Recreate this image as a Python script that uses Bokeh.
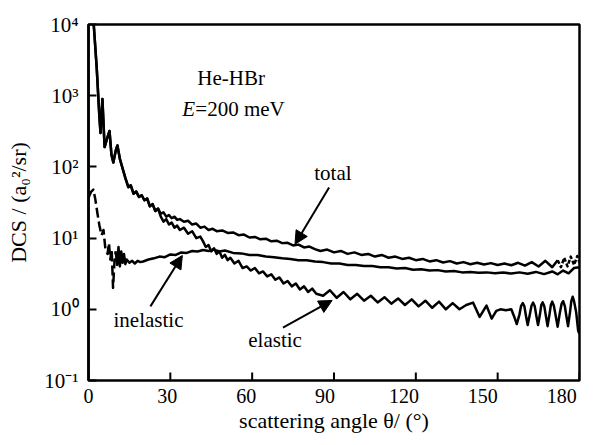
from bokeh.plotting import figure
from bokeh.models import Range1d, FixedTicker, Label, Arrow, NormalHead, LinearAxis
from bokeh.embed import file_html
from bokeh.resources import INLINE

# ---- data ----
# small-angle part shared by total and elastic (deg, a0^2/sr)
theta_small = [1.0, 2.0, 3.0, 4.0, 4.4, 5.1, 5.9, 6.8, 7.7, 8.4, 9.1, 10.0, 10.6, 11.5, 12.4,
               13.5, 14.6, 15.5, 16.5, 17.5, 18.5, 19.5, 20.5, 21.5, 22.5, 23.5, 24.5, 25.5]
dcs_small = [30000, 9000, 2500, 500, 300, 900, 190, 250, 320, 150, 115, 170, 200, 130, 98,
             70, 52, 55, 42, 45, 38, 40, 34, 36, 28, 30, 24, 26]

theta_total_tail = [26.5, 27.5, 28.5, 29.5, 30.5, 31.5, 32.5, 33.5, 35, 36.5, 38, 39.5, 41, 42.5,
                    44, 45.5, 47, 49, 51, 53, 55, 57, 59, 61, 63, 65, 67, 69, 71, 73, 75, 77,
                    79, 81, 83, 85, 87.5, 90, 92.5, 95, 97.5, 100, 102.5, 105, 107.5, 110,
                    112.5, 115, 117.5, 120, 122.5, 125, 127.5, 130, 132.5, 135, 137.5, 140,
                    142.5, 145, 147.5, 150, 152.5, 155, 157.5, 160, 162.5, 165, 167.5, 170, 172]
dcs_total_tail = [22, 23, 20, 21, 19, 20, 18, 18.5, 17, 17.5, 15.5, 16, 14, 14.5,
                  13, 13.5, 12.5, 12.8, 11.8, 12, 11, 11.2, 10.2, 10.4, 9.6, 9.8, 9.0, 9.2, 8.5, 8.6, 7.9, 8.1,
                  7.4, 7.6, 7.0, 6.6, 6.9, 6.3, 6.6, 6.0, 6.3, 5.8, 6.0, 5.5, 5.8, 5.3,
                  5.5, 5.1, 5.3, 4.9, 5.1, 4.7, 4.9, 4.55, 4.75, 4.4, 4.6, 4.3,
                  4.5, 4.25, 4.45, 4.2, 4.4, 4.15, 4.5, 4.1, 4.6, 4.0, 4.8, 3.9, 4.9]
theta_total_end = [172, 173.2, 174.4, 175.6, 176.8, 178, 179.2, 180]
dcs_total_end = [4.9, 3.9, 5.3, 4.0, 5.5, 4.2, 5.6, 4.5]

theta_elastic_tail = [26.5, 27.5, 28.5, 29.5, 30.5, 31.5, 32.5, 33.5, 35, 36.5, 38, 39.5, 41, 42,
                      43, 44, 45, 46, 47, 48, 49, 50, 51, 52, 53.5, 55, 56.5, 58, 59.5, 61, 62.5,
                      64, 65.5, 67, 68.5, 70, 71.5, 73, 74.5, 76, 77.5, 79, 80.5, 82, 83.5, 86,
                      88.5, 91, 93.5, 96, 98.5, 101, 103.5, 106, 108.5, 111, 113.5, 116, 118.5,
                      121, 123.5, 126, 128.5, 131, 133.5, 136, 138.5, 141, 143.4, 145.9, 147.8,
                      149.5, 151, 153, 155, 156, 157, 158, 158.6, 159.2, 159.8, 160.4, 161,
                      161.8, 162.4, 163, 163.6, 164.2, 164.8, 165.5, 166, 166.5, 167.1, 167.7,
                      168.3, 169, 169.5, 170, 170.6, 171.3, 172, 172.7, 173.4, 174, 174.6, 175.2,
                      175.8, 176.5, 177, 177.5, 178, 178.8, 179.5, 180]
dcs_elastic_tail = [20, 17, 18.5, 15.5, 16.5, 14, 15, 13, 14, 11.5, 12.5, 10, 10.5, 9,
                    7.5, 8, 6.5, 7.2, 6.0, 6.5, 5.3, 5.8, 4.9, 5.3, 4.4, 4.8, 3.8, 4.0, 3.5, 3.8, 3.2,
                    3.4, 2.9, 3.1, 2.6, 2.8, 2.3, 2.5, 2.1, 2.3, 1.9, 2.1, 1.75, 1.95, 1.65, 1.55,
                    1.85, 1.45, 1.75, 1.38, 1.65, 1.32, 1.55, 1.25, 1.48, 1.2, 1.42, 1.15, 1.38,
                    1.1, 1.32, 1.05, 1.28, 1.0, 1.22, 1.0, 1.15, 1.24, 0.78, 1.13, 0.74,
                    0.95, 1.0, 0.97, 1.0, 0.8, 0.62, 0.85, 1.12, 1.22, 1.1, 0.8, 0.6,
                    0.85, 1.12, 1.24, 1.1, 0.8, 0.6, 0.85, 1.15, 1.25, 1.1, 0.8,
                    0.58, 0.85, 1.15, 1.28, 1.12, 0.8, 0.57, 0.85, 1.18, 1.3, 1.12, 0.8,
                    0.58, 0.9, 1.3, 1.5, 1.3, 0.9, 0.5, 0.45]

theta_inel_start = [0, 1, 1.8, 2.5, 3.3, 4, 4.8, 5.5, 6.2, 7, 7.5, 8, 8.5, 9, 9.5, 10]
dcs_inel_start = [37, 45, 48, 35, 22, 15, 11, 13, 7, 6, 8.5, 5, 7, 2.0, 4.5, 6.5]
theta_inel = [10, 10.5, 11, 11.5, 12, 12.5, 13, 13.5, 14, 15, 16, 17, 18, 19, 20, 22, 24, 26, 28,
              30, 32, 34, 36, 38, 40, 42, 44, 46, 48, 50, 53, 56, 59, 62, 65, 68, 71, 74, 77,
              80, 83, 86, 89, 92, 95, 98, 101, 104, 107, 110, 113, 116, 119, 122, 125, 128,
              131, 134, 137, 140, 143, 146, 149, 152, 155, 158, 161, 164, 167, 170, 172, 174,
              176, 178, 180]
dcs_inel = [6.5, 4.2, 7.5, 4.0, 6.5, 4.5, 6.0, 4.3, 5.0, 4.5, 4.8, 4.4, 4.8, 4.6, 4.7, 5.0, 5.2, 5.5, 5.4,
            5.9, 5.8, 6.3, 6.2, 6.6, 6.5, 6.8, 6.6, 6.9, 6.5, 6.7, 6.2, 6.1, 5.8, 5.8, 5.5, 5.4, 5.2, 5.1, 4.9,
            4.9, 4.7, 4.6, 4.4, 4.4, 4.2, 4.2, 4.05, 4.05, 3.9, 3.9, 3.75, 3.8, 3.6, 3.65, 3.5, 3.55,
            3.4, 3.45, 3.3, 3.35, 3.25, 3.3, 3.2, 3.28, 3.18, 3.3, 3.15, 3.35, 3.12, 3.4, 3.1, 3.5,
            3.2, 3.8, 3.9]

x_ticks = [0, 30, 60, 90, 120, 150, 180]
y_ticks = [0.1, 1, 10, 100, 1000, 10000]
y_tick_labels = ["10⁻¹", "10⁰", "10¹", "10²", "10³", "10⁴"]

FONT = "Liberation Serif"
Y_MIN, Y_MAX = 0.1, 10000

p = figure(width=599, height=445, output_backend="svg", toolbar_location=None,
           y_axis_type="log", x_range=Range1d(0, 180), y_range=Range1d(Y_MIN, Y_MAX),
           min_border_left=88, min_border_right=20, min_border_top=24, min_border_bottom=65)
p.background_fill_color = "white"
p.border_fill_color = "white"
p.outline_line_color = "black"
p.outline_line_width = 2.5
p.grid.visible = False

# y axis
p.yaxis.ticker = FixedTicker(ticks=y_ticks, minor_ticks=[])
p.yaxis.major_label_overrides = {t: l for t, l in zip(y_ticks, y_tick_labels)}
ya = p.yaxis[0]
ya.axis_line_width = 2.5
ya.axis_line_color = "black"
ya.major_tick_in = 8
ya.major_tick_out = 0
ya.major_tick_line_width = 2
ya.minor_tick_line_color = None
ya.major_label_text_font = FONT
ya.major_label_text_font_size = "21px"
ya.major_label_text_color = "black"
ya.major_label_standoff = 10
ya.axis_label = "DCS / (a₀²/sr)"
ya.axis_label_text_font = FONT
ya.axis_label_text_font_size = "22px"
ya.axis_label_text_font_style = "normal"
ya.axis_label_text_color = "black"
ya.axis_label_standoff = 10

# x axis: inward ticks drawn at the tick values; labels on a slightly compressed label axis
p.xaxis.visible = False
p.ray(x=x_ticks, y=Y_MIN, length=8, length_units="screen", angle=90, angle_units="deg",
      line_color="black", line_width=2)
p.extra_x_ranges = {"labels": Range1d(0, 186.8)}
lab_axis = LinearAxis(x_range_name="labels", ticker=FixedTicker(ticks=x_ticks, minor_ticks=[]),
                      axis_line_color=None, major_tick_line_color=None, minor_tick_line_color=None,
                      major_tick_in=0, major_tick_out=0,
                      major_label_text_font=FONT, major_label_text_font_size="20px",
                      major_label_text_color="black", major_label_standoff=8,
                      axis_label="scattering angle θ/ (°)", axis_label_text_font=FONT,
                      axis_label_text_font_size="22px", axis_label_text_font_style="normal",
                      axis_label_text_color="black", axis_label_standoff=2)
p.add_layout(lab_axis, "below")

lw = 2.5
kw = dict(line_color="black", line_width=lw, line_join="round")
p.line(theta_small + theta_total_tail, dcs_small + dcs_total_tail, **kw)
p.line(theta_total_end, dcs_total_end, line_dash="4 2", **kw)
p.line(theta_small + theta_elastic_tail, dcs_small + dcs_elastic_tail, **kw)
p.line(theta_inel_start, dcs_inel_start, line_dash="10 4", **kw)
p.line(theta_inel, dcs_inel, **kw)

def label(x, y, text, align="center", style="normal", x_offset=0):
    p.add_layout(Label(x=x, y=y, text=text, text_font=FONT, text_font_size="21px",
                       text_align=align, text_baseline="middle", text_font_style=style,
                       text_color="black", x_offset=x_offset))

label(52.3, 1800, "He-HBr")
label(34.4, 660, "E", align="left", style="italic")
label(34.4, 660, "=200 meV", align="left", x_offset=13)
label(89.6, 83, "total")
label(22.0, 0.7, "inelastic")
label(68.4, 0.365, "elastic")

def arrow(x0, y0, x1, y1):
    p.add_layout(Arrow(x_start=x0, y_start=y0, x_end=x1, y_end=y1, line_width=2,
                       line_color="black",
                       end=NormalHead(size=13, fill_color="black", line_color="black")))

arrow(88.2, 51.4, 75.7, 8.2)
arrow(22.7, 1.1, 34.4, 5.7)
arrow(71.3, 0.555, 89.3, 1.33)

open("out.html", "w").write(file_html(p, INLINE))
